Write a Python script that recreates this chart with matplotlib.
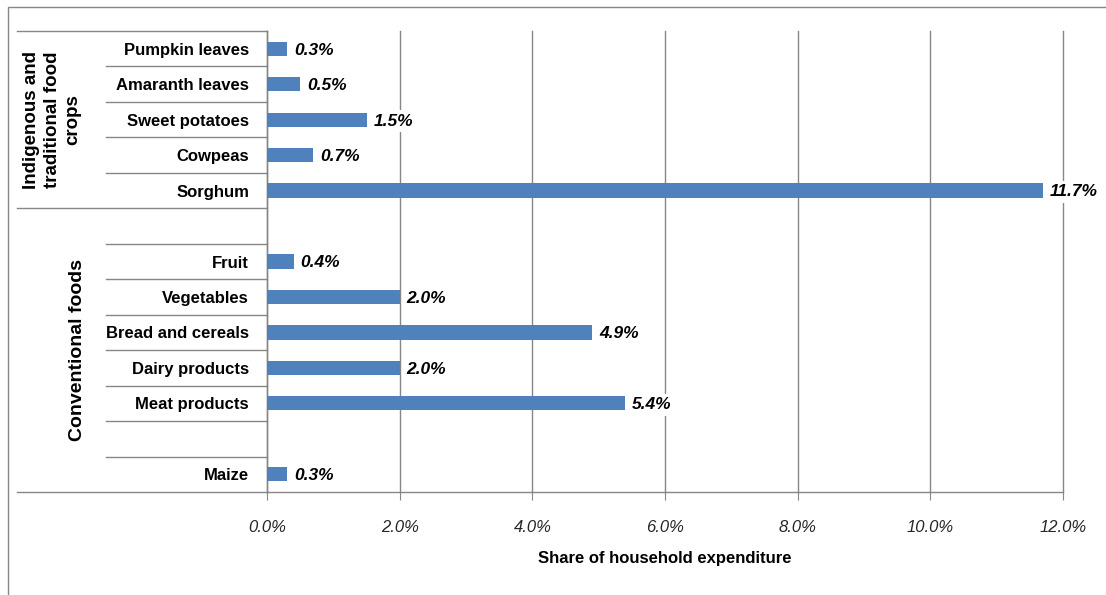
import matplotlib.pyplot as plt
import matplotlib.transforms as mtransforms
from matplotlib.patches import Rectangle
from matplotlib.ticker import FuncFormatter

plt.rcParams['font.family'] = ['Liberation Sans', 'DejaVu Sans']

# rows from top to bottom; empty strings are spacer rows
items = ["Pumpkin leaves", "Amaranth leaves", "Sweet potatoes", "Cowpeas", "Sorghum",
         "", "Fruit", "Vegetables", "Bread and cereals", "Dairy products",
         "Meat products", "", "Maize"]
shares = [0.3, 0.5, 1.5, 0.7, 11.7,
          None, 0.4, 2.0, 4.9, 2.0,
          5.4, None, 0.3]
groups = ["Indigenous and\ntraditional food\ncrops", "Conventional foods"]
group_rows = [(0, 4), (5, 12)]
xticks = [0, 2, 4, 6, 8, 10, 12]

W, H = 1106, 595
fig = plt.figure(figsize=(W / 100, H / 100), dpi=100)
ax = fig.add_axes([267 / W, 1 - 492 / H, (1063 - 267) / W, (492 - 31) / H])

grey = "#868686"
bar_color = "#4F81BD"

# outer chart border (cut off on the right and bottom)
fig.patches.append(Rectangle((8 / W, -0.1), 1.2, 1 - 7 / H + 0.1, transform=fig.transFigure,
                             fill=False, edgecolor=grey, linewidth=1.0))

rows = list(range(len(items)))
for r, v in zip(rows, shares):
    if v is None:
        continue
    ax.barh(r, v, height=0.4, color=bar_color, zorder=3)
    ax.annotate(f"{v:.1f}%", xy=(v, r), xytext=(5, -1), textcoords="offset points",
                ha="left", va="center", fontsize=12.5, fontweight="bold", fontstyle="italic",
                bbox=dict(boxstyle="square,pad=0.2", fc="white", ec="none"), zorder=4)

ax.set_xlim(0, 12)
ax.set_ylim(len(items) - 0.5, -0.5)
ax.set_xticks(xticks)
ax.xaxis.set_major_formatter(FuncFormatter(lambda x, _: f"{x:.1f}%"))
ax.tick_params(axis="x", direction="out", length=6, color=grey, pad=14, labelsize=12,
               labelcolor="#262626")
for lbl in ax.get_xticklabels():
    lbl.set_fontstyle("italic")
ax.grid(axis="x", color=grey, linewidth=1.0, zorder=0)
for gl in ax.xaxis.get_gridlines():
    gl.set_clip_on(False)
ax.set_axisbelow(True)

ax.set_yticks(rows)
ax.set_yticklabels(items, fontsize=12, fontweight="bold")
ax.tick_params(axis="y", length=0, pad=13)

for s in ("top", "right"):
    ax.spines[s].set_visible(False)
for s in ("left", "bottom"):
    ax.spines[s].set_color(grey)
    ax.spines[s].set_linewidth(1.0)

ax.set_xlabel("Share of household expenditure", fontsize=12, fontweight="bold", labelpad=12)

# category table lines to the left of the axis
trans = mtransforms.blended_transform_factory(ax.transAxes, ax.transData)
x_group = (17 - 267) / (1063 - 267)
x_row = (106 - 267) / (1063 - 267)
for (a, b), name in zip(group_rows, groups):
    ax.plot([x_group, 0], [a - 0.5, a - 0.5], transform=trans, color=grey, lw=1.0, clip_on=False)
    for r in range(a + 1, b + 1):
        ax.plot([x_row, 0], [r - 0.5, r - 0.5], transform=trans, color=grey, lw=1.0, clip_on=False)
ax.plot([x_group, 0], [len(items) - 0.5] * 2, transform=trans, color=grey, lw=1.0, clip_on=False)

ax.text((52 - 267) / (1063 - 267), 2.0, groups[0], transform=trans, rotation=90,
        ha="center", va="center", fontsize=13.5, fontweight="bold",
        multialignment="center", linespacing=1.25)
ax.text((78 - 267) / (1063 - 267), 8.5, groups[1], transform=trans, rotation=90,
        ha="center", va="center", fontsize=14, fontweight="bold")

fig.savefig("out.png", dpi=100)
